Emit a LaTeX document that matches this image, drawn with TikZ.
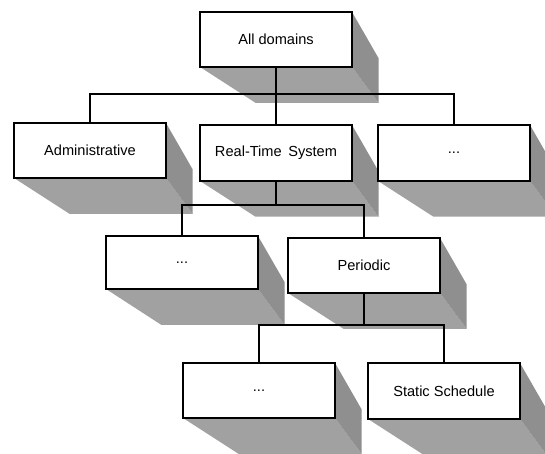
\documentclass[tikz,border=0pt]{standalone}
\usepackage{fontspec}
\setmainfont{Liberation Sans}
\pgfdeclarelayer{background}
\pgfsetlayers{background,main}
\definecolor{shadebottom}{RGB}{161,161,161}
\definecolor{shaderight}{RGB}{143,143,143}
\tikzset{
  orgbox/.style={draw=black, fill=white, line width=2pt, inner sep=0pt, outer sep=0pt,
    font=\fontsize{14.6}{17}\selectfont},
  connector/.style={draw=black, line width=2pt},
  shadowB/.style={fill=shadebottom},
  shadowR/.style={fill=shaderight}
}
% name, x1, y1, x2, y2, text
\newcommand\orgnode[6]{%
  \pgfmathsetmacro\ocx{(#2+#4)/2}%
  \pgfmathsetmacro\ocy{(#3+#5)/2}%
  \pgfmathsetmacro\ow{#4-#2}%
  \pgfmathsetmacro\oh{#5-#3}%
  \pgfmathsetmacro\bxa{\ocx+41-0.405*\ow}%
  \pgfmathsetmacro\bxb{\ocx+41+0.405*\ow}%
  \pgfmathsetmacro\bya{\ocy+41-0.405*\oh}%
  \pgfmathsetmacro\byb{\ocy+41+0.405*\oh}%
  \begin{pgfonlayer}{background}
    \fill[shadowB] (#2,#5) -- (#4,#5) -- (\bxb,\byb) -- (\bxa,\byb) -- cycle;
    \fill[shadowR] (#4,#3) -- (\bxb,\bya) -- (\bxb,\byb) -- (#4,#5) -- cycle;
  \end{pgfonlayer}
  \node[orgbox, minimum width=\ow pt, minimum height=\oh pt] (#1) at (\ocx,\ocy) {#6};
}
\begin{document}
\begin{tikzpicture}[x=1pt,y=-1pt]
\useasboundingbox (0,0) rectangle (545,454);
\orgnode{all}{200}{12}{352}{67}{All domains}
\orgnode{adm}{14}{123}{166}{178}{Administrative}
\orgnode{rts}{200}{125}{352}{181}{Real-Time\hspace{0.45em}System}
\orgnode{dotsa}{378}{125}{530}{181}{...}
\orgnode{dotsb}{106}{236}{258}{289}{...}
\orgnode{per}{288}{238}{440}{293}{Periodic}
\orgnode{dotsc}{183}{363}{335}{418}{...}
\orgnode{stat}{368}{363}{520}{419}{Static Schedule}
\coordinate (ja) at (all.south |- 0,94);
\coordinate (jb) at (rts.south |- 0,205);
\coordinate (jc) at (per.south |- 0,325);
\draw[connector] (all.south) -- (ja);
\draw[connector] (adm.north) |- (ja) -| (dotsa.north);
\draw[connector] (ja) -- (rts.north);
\draw[connector] (rts.south) -- (jb);
\draw[connector] (dotsb.north) |- (jb) -| (per.north);
\draw[connector] (per.south) -- (jc);
\draw[connector] (dotsc.north) |- (jc) -| (stat.north);
\end{tikzpicture}
\end{document}
